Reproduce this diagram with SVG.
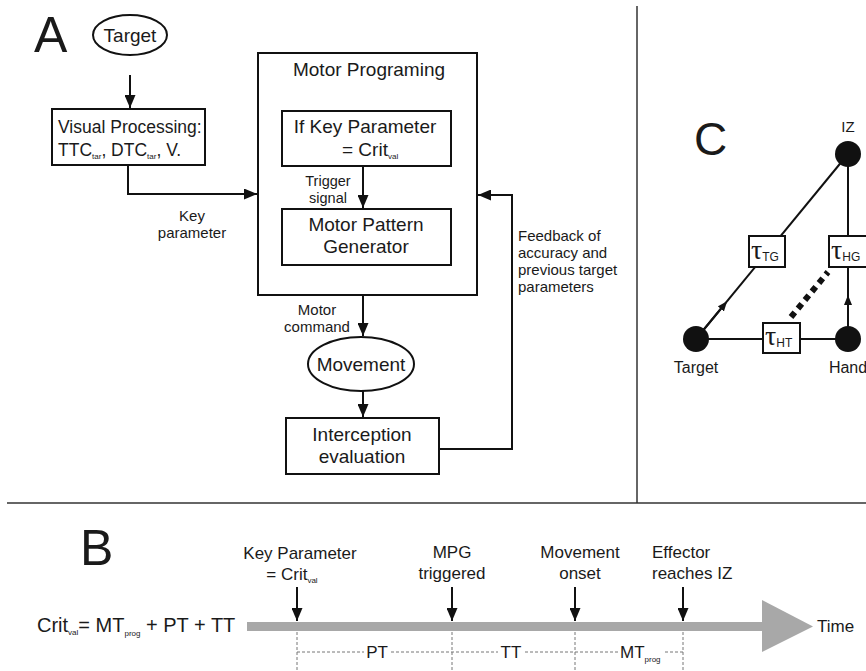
<svg xmlns="http://www.w3.org/2000/svg" width="866" height="671" viewBox="0 0 866 671">
<defs>
<style>
text{font-family:"Liberation Sans",Arial,sans-serif;fill:#1a1a1a}
.box{fill:#fff;stroke:#111;stroke-width:2}
.ln{fill:none;stroke:#111;stroke-width:2}
.sep{fill:none;stroke:#333;stroke-width:1.5}
.big{font-size:50px}
.m{font-size:19px}
.s{font-size:15px}
.t{font-size:17px}
.sub{font-size:8px}
.tau{font-family:"Liberation Serif","DejaVu Serif",serif;font-size:28px}
.tsub{font-size:12px}
.dash{fill:none;stroke:#777;stroke-width:1;stroke-dasharray:3 2}
</style>
<marker id="ah" viewBox="0 0 13 11" refX="13" refY="5.5" markerWidth="13" markerHeight="11" markerUnits="userSpaceOnUse" orient="auto">
<path d="M0,0 L13,5.5 L0,11 Z" fill="#111"/>
</marker>
<marker id="ahs" viewBox="0 0 10 8" refX="5" refY="4" markerWidth="10" markerHeight="8" markerUnits="userSpaceOnUse" orient="auto">
<path d="M0,0 L10,4 L0,8 Z" fill="#111"/>
</marker>
</defs>
<rect width="866" height="671" fill="#fff"/>

<!-- separators -->
<g id="separators">
<line class="sep" x1="637" y1="6" x2="637" y2="503"/>
<line class="sep" x1="7" y1="503" x2="866" y2="503"/>
</g>

<!-- Panel A -->
<text class="big" x="34" y="52">A</text>
<g id="target">
<ellipse class="box" cx="130" cy="35" rx="37" ry="20"/>
<text class="m" x="130" y="42" text-anchor="middle">Target</text>
</g>
<g id="visual">
<rect class="box" x="52" y="109" width="153" height="56"/>
<text class="t" x="58" y="133" style="font-size:17.5px">Visual Processing:</text>
<text class="t" x="58" y="156" style="font-size:17.5px">TTC<tspan class="sub" dy="3">tar</tspan><tspan dy="-3">, DTC</tspan><tspan class="sub" dy="3">tar</tspan><tspan dy="-3">, V.</tspan></text>
</g>
<g id="motorprog">
<rect class="box" x="258" y="53" width="219" height="242"/>
<text class="m" x="369" y="76" text-anchor="middle">Motor Programing</text>
</g>
<g id="ifkey">
<rect class="box" x="282" y="111" width="169" height="55"/>
<text class="m" x="365" y="133" text-anchor="middle">If Key Parameter</text>
<text class="m" x="342" y="156">= Crit<tspan class="sub" dy="3">val</tspan></text>
</g>
<g id="mpg">
<rect class="box" x="282" y="209" width="169" height="56"/>
<text class="m" x="366" y="231" text-anchor="middle">Motor Pattern</text>
<text class="m" x="366" y="253" text-anchor="middle">Generator</text>
</g>
<g id="movement">
<ellipse class="box" cx="361" cy="364" rx="53" ry="27"/>
<text class="m" x="361" y="371" text-anchor="middle">Movement</text>
</g>
<g id="interception">
<rect class="box" x="286" y="418" width="153" height="56"/>
<text class="m" x="362" y="441" text-anchor="middle">Interception</text>
<text class="m" x="362" y="463" text-anchor="middle">evaluation</text>
</g>

<g id="connectorsA">
<line class="ln" x1="130" y1="75" x2="130" y2="108" marker-end="url(#ah)"/>
<path class="ln" d="M128,165 V194 H257" marker-end="url(#ah)"/>
<line class="ln" x1="363" y1="166" x2="363" y2="208" marker-end="url(#ah)"/>
<line class="ln" x1="363" y1="295" x2="363" y2="336" marker-end="url(#ah)"/>
<line class="ln" x1="363" y1="391" x2="363" y2="417" marker-end="url(#ah)"/>
<path class="ln" d="M439,449 H512 V195 H478" marker-end="url(#ah)"/>
</g>
<g id="labelsA">
<text class="s" x="192" y="221" text-anchor="middle">Key</text>
<text class="s" x="192" y="238" text-anchor="middle">parameter</text>
<text class="s" x="328" y="186" text-anchor="middle" style="font-size:14.5px">Trigger</text>
<text class="s" x="328" y="203" text-anchor="middle" style="font-size:14.5px">signal</text>
<text class="s" x="317" y="315" text-anchor="middle">Motor</text>
<text class="s" x="317" y="332" text-anchor="middle">command</text>
<text class="s" x="518" y="241">Feedback of</text>
<text class="s" x="518" y="258">accuracy and</text>
<text class="s" x="518" y="275">previous target</text>
<text class="s" x="518" y="292">parameters</text>
</g>

<!-- Panel C -->
<text x="694" y="155" style="font-size:46px">C</text>
<g id="connectorsC">
<line class="ln" x1="696" y1="339" x2="848" y2="154"/>
<line class="ln" x1="696" y1="339" x2="848" y2="339"/>
<line class="ln" x1="848" y1="339" x2="848" y2="154"/>
<line class="ln" x1="696" y1="339" x2="724" y2="305" marker-end="url(#ahs)"/>
<line class="ln" x1="848" y1="339" x2="848" y2="300" marker-end="url(#ahs)"/>
<line x1="791" y1="317" x2="828" y2="272" stroke="#111" stroke-width="6" stroke-dasharray="6 5"/>
</g>
<g id="iz">
<circle cx="848" cy="154" r="13" fill="#111"/>
<text x="848" y="132" text-anchor="middle" style="font-size:15px">IZ</text>
</g>
<g id="targetC">
<circle cx="696" cy="339" r="13" fill="#111"/>
<text x="696" y="373" text-anchor="middle" style="font-size:16px">Target</text>
</g>
<g id="hand">
<circle cx="848" cy="339" r="13" fill="#111"/>
<text x="848" y="373" text-anchor="middle" style="font-size:16px">Hand</text>
</g>
<g id="tauTG">
<rect class="box" x="749" y="236" width="36" height="31"/>
<text x="751" y="259"><tspan class="tau">τ</tspan><tspan class="tsub" dy="2">TG</tspan></text>
</g>
<g id="tauHG">
<rect class="box" x="829" y="236" width="38" height="31"/>
<text x="831" y="259"><tspan class="tau">τ</tspan><tspan class="tsub" dy="2">HG</tspan></text>
</g>
<g id="tauHT">
<rect class="box" x="763" y="323" width="37" height="30"/>
<text x="765" y="345"><tspan class="tau">τ</tspan><tspan class="tsub" dy="2">HT</tspan></text>
</g>

<!-- Panel B -->
<text class="big" x="80" y="565">B</text>
<g id="timeline">
<rect x="247" y="622" width="520" height="9" fill="#a8a8a8"/>
<path d="M762,600 L813,626.5 L762,652 Z" fill="#a8a8a8"/>
<text x="817" y="632" style="font-size:17px">Time</text>
</g>
<text x="37" y="632" style="font-size:20px">Crit<tspan style="font-size:8px" dy="3">val</tspan><tspan dy="-3">= MT</tspan><tspan style="font-size:8px" dy="4">prog</tspan><tspan dy="-4"> + PT + TT</tspan></text>
<g id="events">
<text class="t" x="300" y="559" text-anchor="middle">Key Parameter</text>
<text class="t" x="292" y="580" text-anchor="middle">= Crit<tspan class="sub" dy="3">val</tspan></text>
<text class="t" x="452" y="558" text-anchor="middle">MPG</text>
<text class="t" x="452" y="579" text-anchor="middle">triggered</text>
<text class="t" x="580" y="558" text-anchor="middle">Movement</text>
<text class="t" x="580" y="579" text-anchor="middle">onset</text>
<text class="t" x="652" y="558">Effector</text>
<text class="t" x="652" y="579">reaches IZ</text>
</g>
<g id="connectorsB">
<line class="ln" x1="297" y1="587" x2="297" y2="621" marker-end="url(#ah)"/>
<line class="ln" x1="452" y1="587" x2="452" y2="621" marker-end="url(#ah)"/>
<line class="ln" x1="575" y1="587" x2="575" y2="621" marker-end="url(#ah)"/>
<line class="ln" x1="683" y1="587" x2="683" y2="621" marker-end="url(#ah)"/>
<line class="dash" x1="297" y1="632" x2="297" y2="671"/>
<line class="dash" x1="452" y1="632" x2="452" y2="671"/>
<line class="dash" x1="575" y1="632" x2="575" y2="671"/>
<line class="dash" x1="683" y1="632" x2="683" y2="671"/>
<line class="dash" x1="297" y1="652" x2="364" y2="652"/>
<line class="dash" x1="391" y1="652" x2="498" y2="652"/>
<line class="dash" x1="525" y1="652" x2="618" y2="652"/>
<line class="dash" x1="665" y1="652" x2="683" y2="652"/>
</g>
<g id="intervals">
<text class="t" x="377" y="658" text-anchor="middle">PT</text>
<text class="t" x="511" y="658" text-anchor="middle">TT</text>
<text class="t" x="620" y="658">MT<tspan class="sub" dy="4">prog</tspan></text>
</g>
</svg>
